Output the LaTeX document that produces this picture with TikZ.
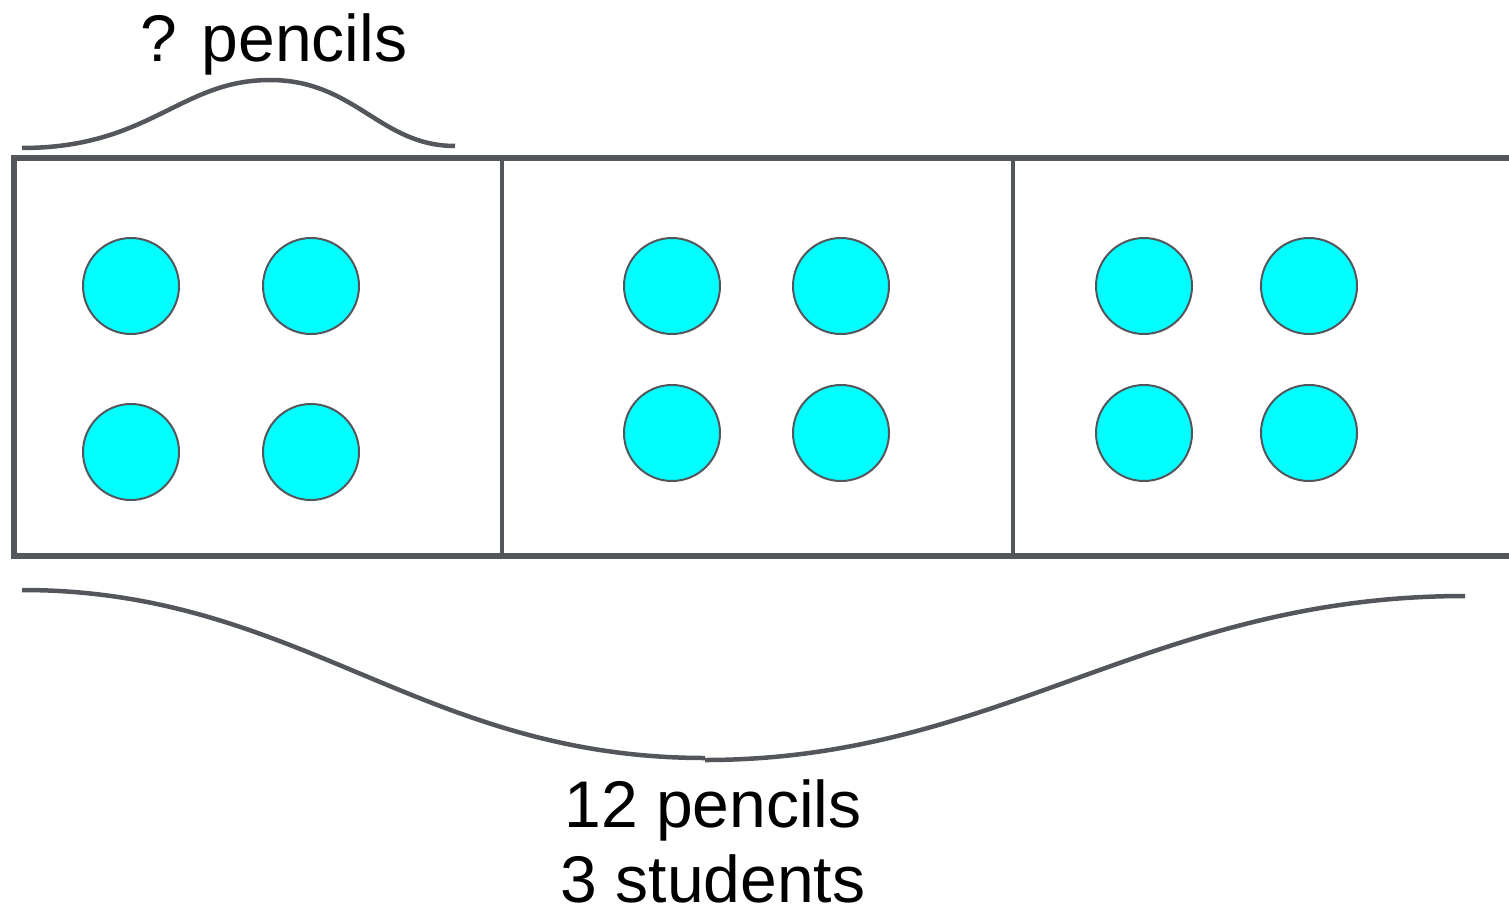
\documentclass[tikz,border=0pt]{standalone}
\usepackage{fontspec}
\setmainfont{Liberation Sans}
\begin{document}
\begin{tikzpicture}[x=1pt,y=-1pt,
  frameline/.style={draw=lineclr,line width=6pt},
  divline/.style={draw=lineclr,line width=4.5pt},
  braceline/.style={draw=lineclr,line width=4.5pt},
  dot/.style={circle,draw=lineclr,line width=2pt,fill=cyan,minimum size=96pt,inner sep=0pt},
  lbl/.style={font=\fontsize{66}{78}\selectfont,inner sep=0pt,anchor=base,text depth=0pt}]
\definecolor{lineclr}{HTML}{53575C}
\definecolor{cyan}{HTML}{00FFFF}
\useasboundingbox (0,0) rectangle (1509,915);
\fill[white] (0,0) rectangle (1509,915);
% frame
\coordinate (tl) at (14,158);
\coordinate (tr) at (1512,158);
\coordinate (bl) at (14,556);
\coordinate (br) at (1512,556);
\draw[frameline] (tr) -- (tl) -- (bl) -- (br);
\coordinate (d1t) at (502,158);
\coordinate (d1b) at (502,556);
\coordinate (d2t) at (1013,158);
\coordinate (d2b) at (1013,556);
\draw[divline] (d1t) -- (d1b);
\draw[divline] (d2t) -- (d2b);
% dots
\node[dot] (a1) at (131,286) {};
\node[dot] (a2) at (311,286) {};
\node[dot] (a3) at (131,452) {};
\node[dot] (a4) at (311,452) {};
\node[dot] (b1) at (672,286) {};
\node[dot] (b2) at (841,286) {};
\node[dot] (b3) at (672,433) {};
\node[dot] (b4) at (841,433) {};
\node[dot] (c1) at (1144,286) {};
\node[dot] (c2) at (1309,286) {};
\node[dot] (c3) at (1144,433) {};
\node[dot] (c4) at (1309,433) {};
% top brace
\coordinate (tb1) at (22,148);
\coordinate (tb2) at (270,80);
\coordinate (tb3) at (455,146);
\draw[braceline] (tb1) .. controls (150,148) and (180,80) .. (tb2)
  .. controls (355,80) and (380,146) .. (tb3);
% bottom brace
\coordinate (bb1) at (22,590);
\coordinate (bb2) at (705,758);
\coordinate (bb3) at (705,760);
\coordinate (bb4) at (1465,596);
\draw[braceline] (bb1) .. controls (300,590) and (420,758) .. (bb2);
\draw[braceline] (bb3) .. controls (1000,760) and (1150,596) .. (bb4);
% labels
\node[lbl] (q) at (274,62) {? pencils};
\node[lbl] (t1) at (713,827) {12 pencils};
\node[lbl] (t2) at (713,902) {3 students};
\end{tikzpicture}
\end{document}
